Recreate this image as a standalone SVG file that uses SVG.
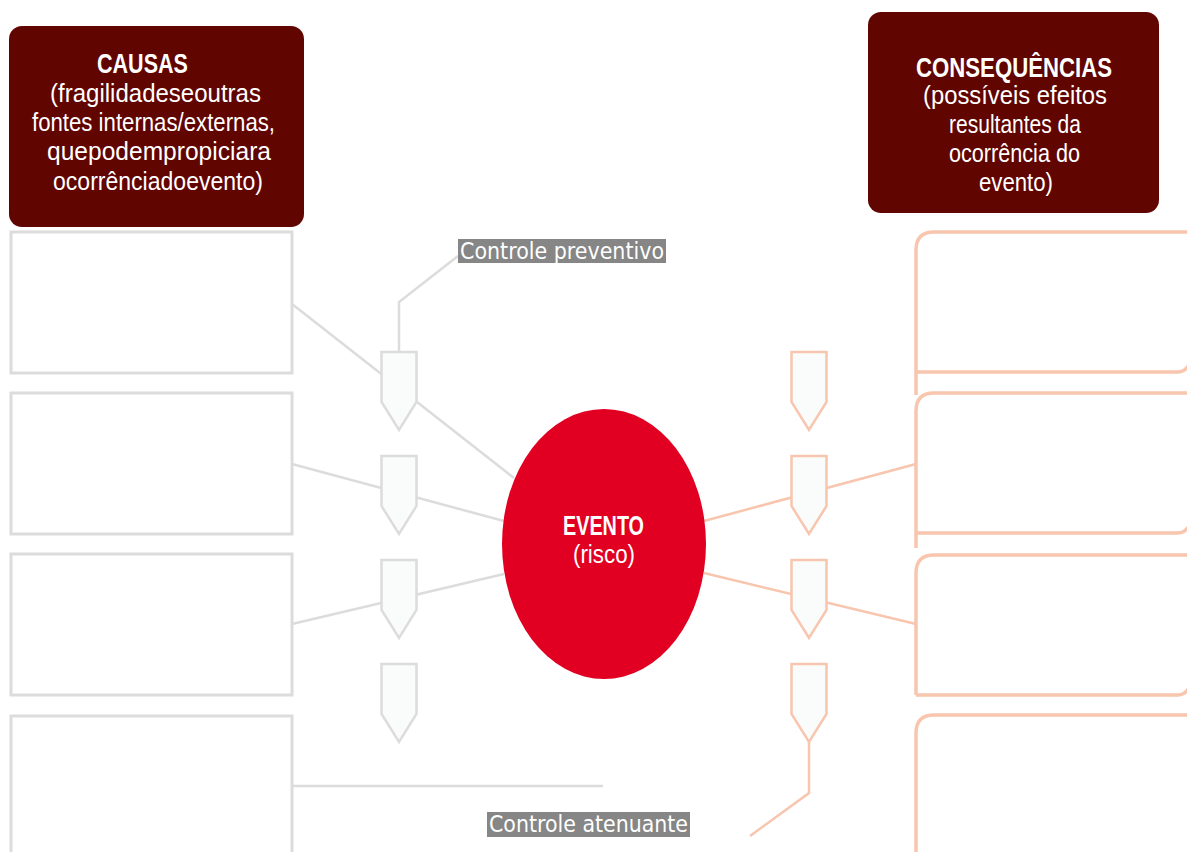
<svg xmlns="http://www.w3.org/2000/svg" width="1187" height="852" viewBox="0 0 1187 852">
  <style>
    .hdr { fill: #600500; }
    .hdr-title { font-family: "Liberation Sans", Arial, sans-serif; font-weight: bold; font-size: 27px; fill: #ffffff; }
    .hdr-text { font-family: "Liberation Sans", Arial, sans-serif; font-size: 25px; fill: #ffffff; }
    .cause { fill: #ffffff; stroke: #dcdcdc; stroke-width: 3; }
    .effect { fill: none; stroke: #f8c5ae; stroke-width: 3.5; }
    .gline { fill: none; stroke: #dcdcdc; stroke-width: 2.5; }
    .sline { fill: none; stroke: #f8c5ae; stroke-width: 2.5; }
    .gctl { fill: #fafbfb; stroke: #dcdcdc; stroke-width: 2.5; stroke-linejoin: miter; }
    .sctl { fill: #fafbfb; stroke: #f8c5ae; stroke-width: 2.5; stroke-linejoin: miter; }
    .tag { fill: #858685; }
    .tag-text { font-family: "DejaVu Sans", Verdana, sans-serif; font-size: 23px; fill: #ffffff; }
    .ev-title { font-family: "Liberation Sans", Arial, sans-serif; font-weight: bold; font-size: 27px; fill: #ffffff; }
    .ev-text { font-family: "Liberation Sans", Arial, sans-serif; font-size: 25px; fill: #ffffff; }
  </style>

  <rect width="1187" height="852" fill="#ffffff"/>

  <!-- connectors -->
  <g id="connectors">
    <line class="gline" x1="292" y1="304" x2="514" y2="478"/>
    <line class="gline" x1="292" y1="464" x2="504" y2="521"/>
    <line class="gline" x1="292" y1="624" x2="504" y2="574"/>
    <polyline class="gline" points="399,352 399,302 458,256"/>
    <line class="gline" x1="292" y1="786" x2="603" y2="786"/>
    <line class="sline" x1="704" y1="521" x2="916" y2="464"/>
    <line class="sline" x1="704" y1="573" x2="916" y2="624"/>
    <polyline class="sline" points="809,742 809,793 750,836"/>
  </g>

  <!-- headers -->
  <g id="causas">
    <rect class="hdr" x="9" y="26" width="295" height="201" rx="13"/>
    <text class="hdr-title" x="97" y="73" textLength="91" lengthAdjust="spacingAndGlyphs">CAUSAS</text>
    <text class="hdr-text" x="50" y="102" textLength="211" lengthAdjust="spacingAndGlyphs">(fragilidadeseoutras</text>
    <text class="hdr-text" x="32" y="131" textLength="243" lengthAdjust="spacingAndGlyphs">fontes internas/externas,</text>
    <text class="hdr-text" x="47" y="160" textLength="224" lengthAdjust="spacingAndGlyphs">quepodempropiciara</text>
    <text class="hdr-text" x="53" y="190" textLength="210" lengthAdjust="spacingAndGlyphs">ocorrênciadoevento)</text>
  </g>

  <g id="consequencias">
    <rect class="hdr" x="868" y="12" width="291" height="201" rx="13"/>
    <text class="hdr-title" x="916" y="77" textLength="196" lengthAdjust="spacingAndGlyphs">CONSEQUÊNCIAS</text>
    <text class="hdr-text" x="923" y="104" textLength="184" lengthAdjust="spacingAndGlyphs">(possíveis efeitos</text>
    <text class="hdr-text" x="949" y="133" textLength="132" lengthAdjust="spacingAndGlyphs">resultantes da</text>
    <text class="hdr-text" x="949" y="162" textLength="131" lengthAdjust="spacingAndGlyphs">ocorrência do</text>
    <text class="hdr-text" x="979" y="191" textLength="74" lengthAdjust="spacingAndGlyphs">evento)</text>
  </g>

  <!-- cause boxes -->
  <g id="cause-1"><rect class="cause" x="11" y="232" width="281" height="141"/></g>
  <g id="cause-2"><rect class="cause" x="11" y="393" width="281" height="141"/></g>
  <g id="cause-3"><rect class="cause" x="11" y="554" width="281" height="141"/></g>
  <g id="cause-4"><rect class="cause" x="11" y="716" width="281" height="180"/></g>

  <!-- consequence boxes (open to the right edge) -->
  <g id="effect-1">
    <path class="effect" d="M916,395 V250 Q916,232 934,232 H1195"/>
    <path class="effect" d="M916,372 H1177 Q1185,372 1188,366"/>
  </g>
  <g id="effect-2">
    <path class="effect" d="M916,548 V411 Q916,393 934,393 H1195"/>
    <path class="effect" d="M916,533 H1177 Q1185,533 1188,527"/>
  </g>
  <g id="effect-3">
    <path class="effect" d="M916,695 V573 Q916,555 934,555 H1195"/>
    <path class="effect" d="M916,695 H1177 Q1185,695 1188,689"/>
  </g>
  <g id="effect-4">
    <path class="effect" d="M916,860 V733 Q916,715 934,715 H1195"/>
  </g>

  <!-- preventive controls -->
  <g id="prev-1"><polygon class="gctl" points="381.5,352 416.5,352 416.5,402 399,430 381.5,402"/></g>
  <g id="prev-2"><polygon class="gctl" points="381.5,456 416.5,456 416.5,506 399,534 381.5,506"/></g>
  <g id="prev-3"><polygon class="gctl" points="381.5,560 416.5,560 416.5,610 399,638 381.5,610"/></g>
  <g id="prev-4"><polygon class="gctl" points="381.5,664 416.5,664 416.5,714 399,742 381.5,714"/></g>

  <!-- mitigating controls -->
  <g id="mit-1"><polygon class="sctl" points="791.5,352 826.5,352 826.5,402 809,430 791.5,402"/></g>
  <g id="mit-2"><polygon class="sctl" points="791.5,456 826.5,456 826.5,506 809,534 791.5,506"/></g>
  <g id="mit-3"><polygon class="sctl" points="791.5,560 826.5,560 826.5,610 809,638 791.5,610"/></g>
  <g id="mit-4"><polygon class="sctl" points="791.5,664 826.5,664 826.5,714 809,742 791.5,714"/></g>

  <!-- central event -->
  <g id="evento">
    <ellipse cx="604" cy="544" rx="102" ry="135" fill="#e10022"/>
    <text class="ev-title" x="563" y="535" textLength="81" lengthAdjust="spacingAndGlyphs">EVENTO</text>
    <text class="ev-text" x="573" y="563" textLength="62" lengthAdjust="spacingAndGlyphs">(risco)</text>
  </g>

  <!-- control labels -->
  <g id="label-preventivo">
    <rect class="tag" x="458" y="239" width="208" height="24"/>
    <text class="tag-text" x="460" y="259" textLength="204" lengthAdjust="spacingAndGlyphs">Controle preventivo</text>
  </g>
  <g id="label-atenuante">
    <rect class="tag" x="487" y="812" width="203" height="25"/>
    <text class="tag-text" x="489" y="832" textLength="199" lengthAdjust="spacingAndGlyphs">Controle atenuante</text>
  </g>
</svg>
